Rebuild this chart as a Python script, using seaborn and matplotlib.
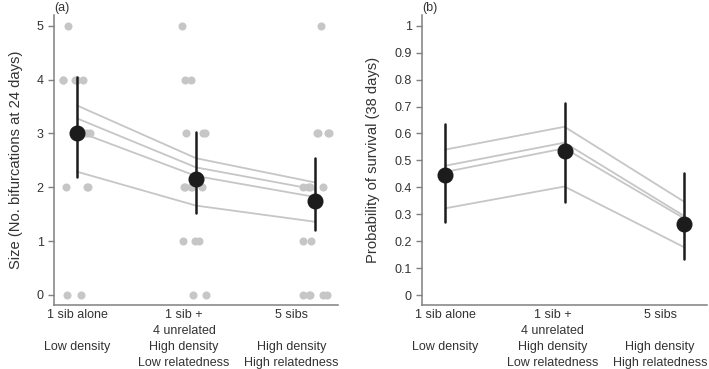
import numpy as np
import pandas as pd
import seaborn as sns
import matplotlib.pyplot as plt

# treatment labels (x axis)
tick_labels = ['1 sib alone\n\nLow density\n',
               '1 sib +\n4 unrelated\nHigh density\nLow relatedness',
               '5 sibs\n\nHigh density\nHigh relatedness']
group_pos = [0, 1, 2]
label_pos = [0, 0.9, 1.8]   # labels sit a bit left of the groups in the original

# (a) raw sizes (No. bifurcations at 24 days) per treatment
size_alone = [5, 4, 4, 4, 4, 4, 4, 3, 3, 3, 3, 2, 2, 2, 0, 0]
size_mixed = [5, 4, 4, 3, 3, 3, 2, 2, 2, 2, 2, 1, 1, 1, 0, 0]
size_sibs = [5, 3, 3, 3, 3, 2, 2, 2, 2, 1, 1, 0, 0, 0, 0, 0]

# (a) model predictions per family (grey lines)
size_fam1 = [3.52, 2.54, 2.09]
size_fam2 = [3.28, 2.37, 1.96]
size_fam3 = [3.04, 2.21, 1.82]
size_fam4 = [2.29, 1.66, 1.36]

# (a) estimates with intervals
size_mean = [3.0, 2.15, 1.75]
size_lo = [2.2, 1.53, 1.21]
size_hi = [4.05, 3.02, 2.55]

# (b) model predictions per family
surv_fam1 = [0.54, 0.625, 0.347]
surv_fam2 = [0.48, 0.566, 0.294]
surv_fam3 = [0.457, 0.545, 0.285]
surv_fam4 = [0.322, 0.403, 0.178]

# (b) estimates with intervals
surv_mean = [0.446, 0.535, 0.264]
surv_lo = [0.27, 0.345, 0.133]
surv_hi = [0.636, 0.715, 0.455]

sns.set_style('ticks')
plt.rcParams['font.family'] = ['Liberation Sans', 'DejaVu Sans']
plt.rcParams['font.size'] = 9

GREY = '#c6c6c6'
DARK = '#1c1c1c'
AXC = '#808080'
TXT = '#333333'


def family_lines(ax, fams):
    rows = []
    for i, vals in enumerate(fams):
        for p, v in zip(group_pos, vals):
            rows.append({'pos': p, 'value': v, 'fam': i})
    df = pd.DataFrame(rows)
    sns.lineplot(data=df, x='pos', y='value', units='fam', estimator=None,
                 color=GREY, linewidth=1.3, legend=False, ax=ax, zorder=2)


def estimates(ax, mean, lo, hi):
    rows = []
    for p, m, l, h in zip(group_pos, mean, lo, hi):
        for v in (l, m, h):
            rows.append({'pos': p, 'value': v})
    df = pd.DataFrame(rows)
    sns.pointplot(data=df, x='pos', y='value', estimator='median',
                  errorbar=lambda v: (v.min(), v.max()), color=DARK,
                  linestyle='none', marker='o', markersize=9.5,
                  err_kws={'linewidth': 1.8}, ax=ax, zorder=5)


def style_axis(ax, label, tag):
    ax.set_xlim(-0.193, 2.193)
    ax.set_xticks(label_pos)
    ax.set_xticklabels(tick_labels, color=TXT, linespacing=1.42)
    ax.tick_params(axis='x', length=0, pad=3)
    ax.tick_params(axis='y', length=4.5, width=1, color=AXC, labelcolor=TXT, pad=3)
    ax.set_xlabel('')
    ax.set_ylabel(label, color=TXT, fontsize=10.6, labelpad=10)
    sns.despine(ax=ax)
    for s in ('left', 'bottom'):
        ax.spines[s].set_color(AXC)
        ax.spines[s].set_linewidth(1.1)
    ax.text(0.0, 1.005, tag, transform=ax.transAxes, ha='left', va='bottom',
            color=TXT, fontsize=9)


fig = plt.figure(figsize=(7.09, 3.69), dpi=100)
ax1 = fig.add_axes([54 / 709, 64 / 369, 284 / 709, 290 / 369])
ax2 = fig.add_axes([422 / 709, 64 / 369, 285 / 709, 290 / 369])

# panel (a)
raw = pd.DataFrame({
    'pos': [0] * len(size_alone) + [1] * len(size_mixed) + [2] * len(size_sibs),
    'size': size_alone + size_mixed + size_sibs,
})
np.random.seed(11)
sns.stripplot(data=raw, x='pos', y='size', jitter=0.12, color=GREY, size=5.8,
              linewidth=0, ax=ax1, zorder=1)
family_lines(ax1, [size_fam1, size_fam2, size_fam3, size_fam4])
estimates(ax1, size_mean, size_lo, size_hi)
ax1.set_ylim(-0.186, 5.2)
ax1.set_yticks([0, 1, 2, 3, 4, 5])
style_axis(ax1, 'Size (No. bifurcations at 24 days)', '(a)')

# panel (b)
family_lines(ax2, [surv_fam1, surv_fam2, surv_fam3, surv_fam4])
estimates(ax2, surv_mean, surv_lo, surv_hi)
ax2.set_ylim(-0.037, 1.04)
yt = np.round(np.arange(0, 1.01, 0.1), 1)
ax2.set_yticks(yt)
ax2.set_yticklabels(['0'] + [f'{v:.1f}' for v in yt[1:-1]] + ['1'])
style_axis(ax2, 'Probability of survival (38 days)', '(b)')

fig.savefig('out.png', dpi=100)
